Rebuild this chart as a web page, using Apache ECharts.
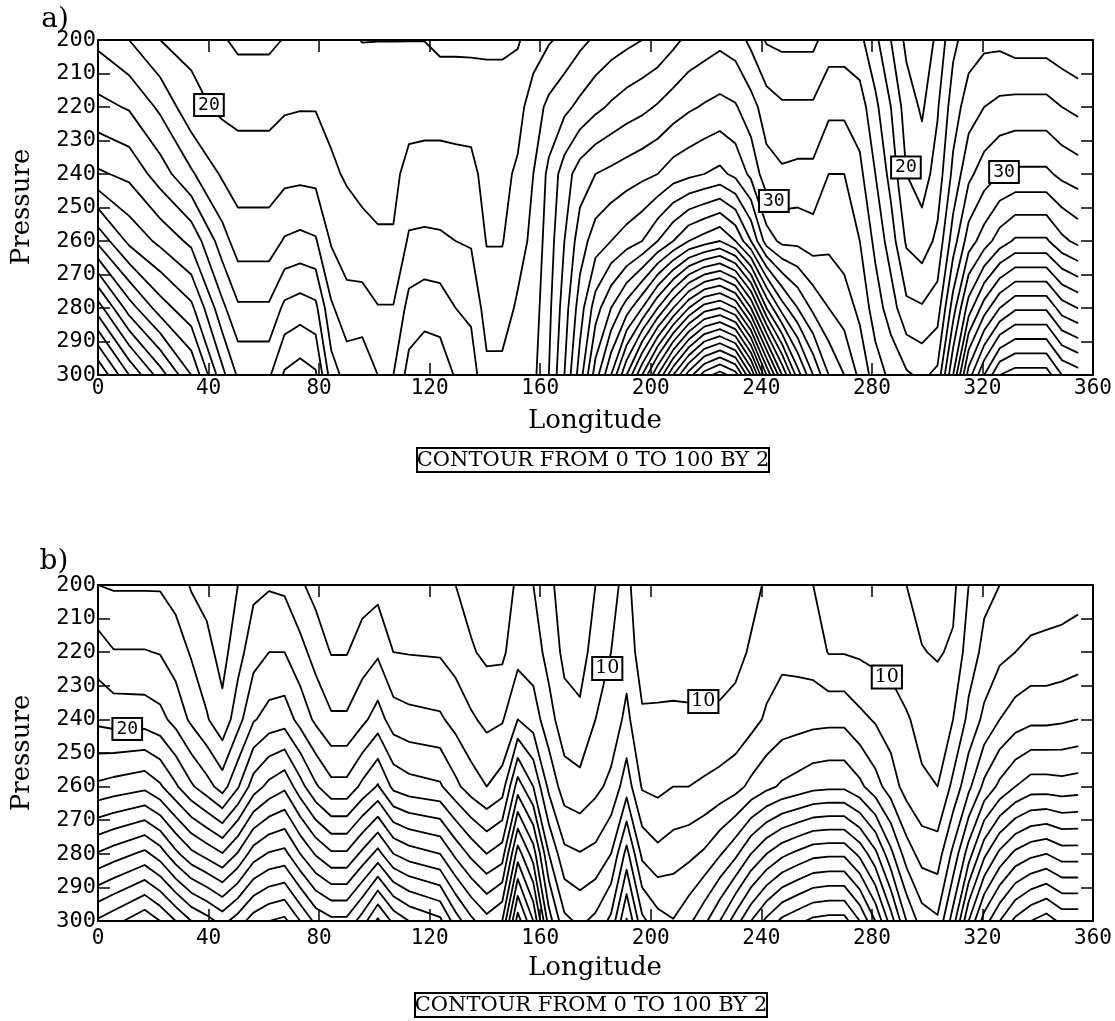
<!DOCTYPE html>
<html>
<head>
<meta charset="utf-8">
<script src="https://cdn.jsdelivr.net/npm/echarts@6/dist/echarts.min.js"></script>
<style>
  html, body { margin: 0; padding: 0; background: #fff; }
  #chart { width: 1115px; height: 1021px; }
</style>
</head>
<body>
<div id="chart"></div>
<script>
// Contour levels: 0 to 100 by 2
const levelMin = 0, levelMax = 100, levelStep = 2;

// Pressure rows of the gridded fields (hPa)
const pressureRows = [200, 220, 240, 260, 280, 300];

// ---------- Panel a: field on longitude columns, one array per pressure row ----------
const lonA = [0, 11.25, 22.5, 33.75, 45, 50.625, 61.875, 67.5, 73.125, 78.75, 84.375, 90, 95.625,
  101.25, 106.875, 112.5, 118.125, 123.75, 129.375, 135, 140.625, 146.25, 151.875, 157.5, 163.125,
  168.75, 174.375, 180, 185.625, 191.25, 196.875, 202.5, 208.125, 213.75, 219.375, 225, 230.625,
  236.25, 241.875, 247.5, 253.125, 258.75, 264.375, 270, 275.625, 281.25, 286.875, 292.5, 298.125,
  303.75, 309.375, 315, 320.625, 326.25, 331.875, 337.5, 343.125, 348.75, 354.375];
const a200 = [23.5, 22, 20, 19.5, 18.2, 17.6, 17.6, 18.1, 18.2, 18.2, 18.5, 18.3, 17.95,
  17.97, 17.97, 17.97, 17.97, 17.5, 17.5, 17.5, 17.5, 17.5, 17.8, 19, 19.8,
  20.5, 21.5, 22.3, 23, 23.5, 24, 24.5, 25.5, 26.5, 27, 27.5, 27,
  25.5, 23.8, 23.5, 23.5, 23.5, 25, 25, 24.5, 22.5, 20, 17.5, 16.5,
  18.5, 21.5, 23, 23.5, 23.5, 23, 23, 23, 22.5, 22];
const a220 = [26.6, 25.8, 23.6, 20.6, 19.6, 19.45, 19.45, 19.8, 19.9, 19.9, 19.5, 19.3, 19.2,
  19.3, 19.3, 19.5, 19.5, 19.5, 19.5, 19.4, 19.2, 19.2, 19.3, 21, 22.5,
  23.5, 24.5, 25.5, 26.3, 27, 27.5, 28.2, 29, 29.7, 30.2, 30.6, 30.2,
  28.8, 27, 26.3, 26.3, 26.3, 27.5, 27.5, 27, 24.5, 22, 19, 17.7,
  19.8, 23, 25, 26, 26.5, 26.7, 26.7, 26.7, 26, 25.5];
const a240 = [30.3, 29.5, 27, 24.3, 21.7, 21, 21, 21.4, 21.5, 21.4, 20.3, 19.8, 19.6,
  19.7, 19.7, 20.4, 20.5, 20.5, 20.4, 20.4, 19.5, 19.5, 20.3, 22, 24.5,
  27, 29, 30, 30.5, 31, 31.5, 32, 33, 33.5, 34, 34.5, 33.5,
  31.5, 28.8, 28.3, 28.5, 28.5, 30, 30, 28.5, 26, 23.3, 20, 19.1,
  20.8, 24.5, 27.5, 29, 30, 30.4, 30.4, 30.4, 29.5, 29];
const a260 = [37.5, 33.5, 31.5, 29.5, 24.9, 23, 23, 24.2, 24.5, 24.2, 21.8, 20.9, 20.4,
  20.1, 20.1, 22.3, 22.4, 22.3, 22, 21.8, 19.9, 19.9, 21.2, 22.5, 25,
  28, 31, 33, 34, 35, 36, 38, 40, 42, 43, 44, 42,
  38, 33, 31.5, 31.5, 31, 31.5, 31, 30, 27.5, 25, 21.7, 20.9,
  22.5, 27, 31, 33, 35, 36.3, 36.3, 36.3, 34.5, 33.5];
const a280 = [47, 41, 37, 34.5, 28.5, 26.3, 26.3, 28.5, 29, 28.5, 24.3, 22.8, 23,
  22.1, 22.1, 24.7, 25.2, 25, 24, 23.6, 21.1, 21.1, 22.3, 23, 25.5,
  29, 33, 37, 40, 43, 46, 50, 54, 58, 61, 62, 60,
  54, 46, 41, 38, 35.5, 34, 33, 31.5, 29, 27, 24.5, 24.2,
  25, 31, 37, 41, 44, 45.7, 45.7, 45.7, 43, 42];
const a300 = [56, 50, 45, 40, 32.6, 29.7, 29.7, 32.3, 33, 32.3, 27, 25.2, 25.3,
  24, 24, 26.8, 27.5, 27.3, 25.8, 25, 22.5, 22.5, 23.2, 23.5, 26,
  30, 35, 41, 46, 52, 58, 64, 70, 75, 79, 81, 79,
  72, 62, 54, 47, 42, 38, 36, 33.5, 31, 29.5, 28.3, 27.6,
  28.5, 36, 45, 50, 54, 55, 55, 55, 52, 51];

// ---------- Panel b ----------
const lonB = [0, 5.625, 16.875, 22.5, 28.125, 33.75, 39.375, 45, 50.625, 56.25, 61.875, 67.5, 73.125,
  78.75, 84.375, 90, 95.625, 101.25, 106.875, 112.5, 123.75, 129.375, 135, 140.625, 146.25, 151.875,
  157.5, 163.125, 168.75, 174.375, 180, 185.625, 191.25, 196.875, 202.5, 208.125, 213.75, 219.375,
  225, 230.625, 236.25, 241.875, 247.5, 253.125, 258.75, 264.375, 270, 275.625, 281.25, 286.875,
  292.5, 298.125, 303.75, 309.375, 315, 320.625, 326.25, 331.875, 337.5, 343.125, 348.75, 354.375];
const b200 = [14, 13.8, 13.8, 13.8, 13.2, 11.8, 11.3, 10.5, 12, 13.5, 13.8, 13.6, 12.3,
  11.3, 10.5, 10.5, 11, 11.3, 10.8, 10.5, 10.4, 10, 9.3, 8.5, 8.5, 10.5,
  10, 8.5, 7, 6.5, 8, 9.5, 10.5, 8.6, 8.5, 8.3, 8.5, 8.5,
  8.6, 9, 9.5, 10.2, 10.5, 10.3, 10, 9.2, 9.2, 9, 8.8, 8.5,
  8, 7.2, 6.5, 7.5, 10, 11.5, 12, 12.5, 12.5, 13, 13, 13.2];
const b220 = [17, 16.1, 16.1, 15.9, 15, 13.8, 12.6, 11.3, 13.2, 15.2, 16, 16, 14.7,
  13.2, 11.9, 11.9, 13, 13.7, 12, 11.9, 11.8, 11.2, 10.2, 9.6, 9.6, 11.3,
  11, 9.3, 7.5, 7, 9, 10, 11.2, 9, 8.8, 8.7, 8.8, 8.9,
  9, 9.5, 10.2, 11, 11.5, 11.3, 11, 9.9, 9.9, 9.7, 9.4, 9.3,
  8.8, 8.1, 7.8, 8.3, 11, 12.5, 13.5, 14, 14.5, 14.5, 14.7, 15];
const b240 = [19.5, 19.2, 19.1, 18.6, 17.3, 15.6, 14.2, 12.6, 15.2, 17.8, 18.8, 19.1, 17.3,
  15.6, 14.3, 14.3, 15.5, 16.9, 15, 14.6, 14.3, 13.3, 12.3, 11.5, 11.8, 14,
  13, 10.8, 8.8, 8.5, 10, 10.8, 12.5, 10.3, 10.4, 10.5, 10.4, 10.4,
  10.4, 10.6, 11.3, 12.3, 13, 13.2, 13.4, 13.5, 13.5, 12.5, 11.8, 11,
  10.2, 9.4, 9.2, 10, 12.5, 14.5, 16, 17, 17.5, 17.5, 17.7, 18];
const b260 = [24.4, 24.8, 25.5, 24.3, 22.3, 20.3, 18.8, 17.1, 19.8, 23, 24.6, 25.6, 22.8,
  20.3, 18.6, 18.6, 20.5, 22.2, 19.5, 18.8, 18.3, 16.5, 15, 14, 15, 21,
  18, 13.5, 11, 10.6, 11.5, 12.5, 15.1, 11.8, 11.5, 12, 12, 12.3,
  12.7, 13.3, 14.5, 15.5, 16.3, 16.8, 17.4, 17.6, 17.6, 16.5, 14.8, 13,
  11.2, 10.3, 10, 12.5, 15.5, 18.5, 20.5, 22, 23, 23, 22.8, 23];
const b280 = [32.2, 33, 34.5, 33, 30.5, 28.5, 27.3, 26.1, 28.2, 31, 32.2, 32.6, 30,
  27.8, 26.3, 26.3, 28.5, 30.7, 28, 27, 26, 23.5, 21.5, 20, 21, 29,
  25, 18, 14.5, 14.1, 14.5, 16, 20.7, 15.5, 14.5, 15.1, 15.5, 16.3,
  17.8, 19.5, 22, 24, 25.5, 26.5, 27.4, 27.6, 27.6, 25.5, 22.5, 18.5,
  15, 13.2, 13, 16.5, 21, 25.5, 28.5, 30.5, 31.5, 32, 31, 31];
const b300 = [40.3, 41.3, 43.5, 42, 40, 38, 36.8, 35.3, 37, 39, 40, 40.5, 38,
  35.5, 34.5, 34.5, 37, 40.4, 37.5, 36, 34.5, 31, 28.5, 26.7, 28, 37,
  32, 23, 18.5, 17.6, 18.5, 20.5, 26.2, 20.5, 18.8, 18.1, 19.5, 21.5,
  24, 27, 30, 32.5, 34.5, 35.5, 36.5, 36.8, 36.8, 34, 30, 25,
  20, 17, 16.3, 21, 28, 33, 36, 38.5, 40, 41, 39.5, 39.5];

// Labelled contours: value and where along the line the label sits
const labelsA = [
  { level: 20, lon: 34, p: 222, font: 'mono' },
  { level: 30, lon: 242, p: 250, font: 'mono' },
  { level: 20, lon: 293, p: 238, font: 'mono' },
  { level: 30, lon: 327, p: 238, font: 'mono' }
];
const labelsB = [
  { level: 20, lon: 10.6, p: 246, font: 'mono' },
  { level: 10, lon: 185, p: 225, font: 'serif' },
  { level: 10, lon: 219, p: 234.5, font: 'serif' },
  { level: 10, lon: 286.6, p: 226, font: 'serif' }
];

const MONO = '"DejaVu Sans Mono", "Liberation Mono", monospace';
const SERIF = '"DejaVu Serif", "Liberation Serif", serif';

// ---------- marching squares on a rectilinear grid ----------
function contourLevel(xs, ys, z, level) {
  const segs = [];
  for (let j = 0; j < ys.length - 1; j++) {
    for (let i = 0; i < xs.length - 1; i++) {
      const v0 = z[j][i], v1 = z[j][i + 1], v2 = z[j + 1][i + 1], v3 = z[j + 1][i];
      const edges = [
        [v0, v1, xs[i], ys[j], xs[i + 1], ys[j], 'h' + j + '_' + i],
        [v1, v2, xs[i + 1], ys[j], xs[i + 1], ys[j + 1], 'v' + (i + 1) + '_' + j],
        [v3, v2, xs[i], ys[j + 1], xs[i + 1], ys[j + 1], 'h' + (j + 1) + '_' + i],
        [v0, v3, xs[i], ys[j], xs[i], ys[j + 1], 'v' + i + '_' + j]
      ];
      const cr = [];
      edges.forEach((e, idx) => {
        const a = e[0], b = e[1];
        if ((a >= level) !== (b >= level)) {
          const t = (level - a) / (b - a);
          cr.push({ x: e[2] + t * (e[4] - e[2]), y: e[3] + t * (e[5] - e[3]), key: e[6], edge: idx });
        }
      });
      if (cr.length === 2) {
        segs.push([cr[0], cr[1]]);
      } else if (cr.length === 4) {
        const c = (v0 + v1 + v2 + v3) / 4;
        const byEdge = {};
        cr.forEach(p => { byEdge[p.edge] = p; });
        if ((c >= level) === (v0 >= level)) {
          segs.push([byEdge[0], byEdge[1]]);
          segs.push([byEdge[2], byEdge[3]]);
        } else {
          segs.push([byEdge[0], byEdge[3]]);
          segs.push([byEdge[1], byEdge[2]]);
        }
      }
    }
  }
  // chain segments into polylines through shared edge crossings
  const byKey = {};
  segs.forEach((s, k) => {
    s.forEach(p => { (byKey[p.key] = byKey[p.key] || []).push(k); });
  });
  const used = new Array(segs.length).fill(false);
  const polys = [];
  function walk(startSeg, startEnd) {
    const pts = [];
    let k = startSeg, from = startEnd;
    const first = segs[k][from];
    pts.push([first.x, first.y]);
    while (!used[k]) {
      used[k] = true;
      const other = segs[k][1 - from];
      pts.push([other.x, other.y]);
      const nexts = (byKey[other.key] || []).filter(n => !used[n]);
      if (!nexts.length) break;
      const n = nexts[0];
      from = segs[n][0].key === other.key ? 0 : 1;
      k = n;
    }
    return pts;
  }
  // open lines first (start at a crossing used by one segment only)
  segs.forEach((s, k) => {
    if (used[k]) return;
    for (let e = 0; e < 2; e++) {
      if (byKey[s[e].key].length === 1) { polys.push(walk(k, e)); return; }
    }
  });
  segs.forEach((s, k) => { if (!used[k]) polys.push(walk(k, 0)); });
  return polys;
}

function allContours(xs, ys, z) {
  const out = {};
  for (let L = levelMin; L <= levelMax; L += levelStep) {
    out[L] = contourLevel(xs, ys, z, L);
  }
  return out;
}

// point on a contour of the given level nearest to (lon, p), measured in plot pixels
function nearestPoint(polys, lon, p) {
  const sx = 2.764, sy = 3.355;
  let best = null, bd = Infinity;
  polys.forEach(pts => {
    for (let k = 0; k < pts.length - 1; k++) {
      const ax = pts[k][0] * sx, ay = pts[k][1] * sy, bx = pts[k + 1][0] * sx, by = pts[k + 1][1] * sy;
      const px = lon * sx, py = p * sy;
      const dx = bx - ax, dy = by - ay;
      const len2 = dx * dx + dy * dy || 1e-9;
      let t = ((px - ax) * dx + (py - ay) * dy) / len2;
      t = Math.max(0, Math.min(1, t));
      const qx = ax + t * dx, qy = ay + t * dy;
      const d = (qx - px) ** 2 + (qy - py) ** 2;
      if (d < bd) { bd = d; best = [qx / sx, qy / sy]; }
    }
  });
  return best || [lon, p];
}

const fieldA = [a200, a220, a240, a260, a280, a300];
const fieldB = [b200, b220, b240, b260, b280, b300];
const contA = allContours(lonA, pressureRows, fieldA);
const contB = allContours(lonB, pressureRows, fieldB);

function lineData(cont) {
  const data = [];
  Object.keys(cont).forEach(L => {
    cont[L].forEach(pts => { if (pts.length > 1) data.push({ coords: pts }); });
  });
  return data;
}

function labelData(cont, specs) {
  return specs.map(s => {
    const pt = nearestPoint(cont[s.level] || [], s.lon, s.p);
    const serif = s.font === 'serif';
    return {
      value: [pt[0], pt[1], s.level],
      label: {
        fontFamily: serif ? SERIF : MONO,
        fontSize: serif ? 19 : 18,
        padding: serif ? [2, 2, 0, 2] : [2, 3, 0, 3]
      }
    };
  });
}

// ---------- axes ----------
const gridsDef = [
  { left: 98, top: 40, width: 995, height: 335 },
  { left: 98, top: 585, width: 995, height: 336 }
];

function xAxes(g, labelMargin) {
  const base = {
    gridIndex: g, type: 'value', min: 0, max: 360, interval: 40,
    axisLine: { show: true, onZero: false, lineStyle: { color: '#000', width: 2 } },
    axisTick: { show: true, inside: true, length: 12, lineStyle: { color: '#000', width: 1.5 } },
    splitLine: { show: false }
  };
  return [
    Object.assign({}, base, {
      position: 'bottom',
      axisLabel: { color: '#000', fontFamily: MONO, fontSize: 21, margin: labelMargin }
    }),
    Object.assign({}, base, { position: 'top', axisLabel: { show: false } })
  ];
}
function yAxes(g) {
  const base = {
    gridIndex: g, type: 'value', min: 200, max: 300, interval: 10, inverse: true,
    axisLine: { show: true, onZero: false, lineStyle: { color: '#000', width: 2 } },
    axisTick: { show: true, inside: true, length: 12, lineStyle: { color: '#000', width: 1.5 } },
    splitLine: { show: false }
  };
  return [
    Object.assign({}, base, {
      position: 'left',
      axisLabel: { color: '#000', fontFamily: MONO, fontSize: 22, margin: 2 }
    }),
    Object.assign({}, base, { position: 'right', axisLabel: { show: false } })
  ];
}

const lineStyle = { color: '#000', width: 1.8, opacity: 1, curveness: 0, cap: 'round', join: 'round' };

const labelBase = {
  show: true, position: 'inside', color: '#000', opacity: 1,
  backgroundColor: '#fff', borderColor: '#000', borderWidth: 2,
  formatter: p => String(p.value[2])
};

function textEl(text, x, y, size, opts) {
  return Object.assign({
    type: 'text', x: x, y: y, silent: true,
    style: { text: text, font: size + 'px ' + SERIF, fill: '#000', align: 'center', verticalAlign: 'middle' }
  }, opts || {});
}
function boxedNote(cx, cy, w, h) {
  return [
    { type: 'rect', silent: true, shape: { x: cx - w / 2, y: cy - h / 2, width: w, height: h },
      style: { fill: '#fff', stroke: '#000', lineWidth: 2 } },
    textEl('CONTOUR FROM 0 TO 100 BY 2', cx, cy + 1, 21)
  ];
}

const option = {
  backgroundColor: '#fff',
  animation: false,
  grid: gridsDef,
  xAxis: [].concat(xAxes(0, 3), xAxes(1, 7)),
  yAxis: [].concat(yAxes(0), yAxes(1)),
  series: [
    { type: 'lines', coordinateSystem: 'cartesian2d', xAxisIndex: 0, yAxisIndex: 0, polyline: true,
      silent: true, lineStyle: lineStyle, data: lineData(contA), z: 2 },
    { type: 'lines', coordinateSystem: 'cartesian2d', xAxisIndex: 2, yAxisIndex: 2, polyline: true,
      silent: true, lineStyle: lineStyle, data: lineData(contB), z: 2 },
    { type: 'scatter', xAxisIndex: 0, yAxisIndex: 0, symbolSize: 0, silent: true, z: 5,
      itemStyle: { color: '#000', opacity: 1 }, label: labelBase, data: labelData(contA, labelsA) },
    { type: 'scatter', xAxisIndex: 2, yAxisIndex: 2, symbolSize: 0, silent: true, z: 5,
      itemStyle: { color: '#000', opacity: 1 }, label: labelBase, data: labelData(contB, labelsB) }
  ],
  graphic: [
    textEl('a)', 55, 20, 28),
    textEl('Pressure', 22, 207, 26, { rotation: Math.PI / 2 }),
    textEl('Longitude', 595, 421, 26),
    ...boxedNote(593, 460, 352, 24),
    textEl('b)', 54, 562, 28),
    textEl('Pressure', 22, 753, 26, { rotation: Math.PI / 2 }),
    textEl('Longitude', 595, 968, 26),
    ...boxedNote(591, 1005, 352, 24)
  ]
};

const chart = echarts.init(document.getElementById('chart'), null, { renderer: 'canvas' });
chart.setOption(option);
</script>
</body>
</html>
